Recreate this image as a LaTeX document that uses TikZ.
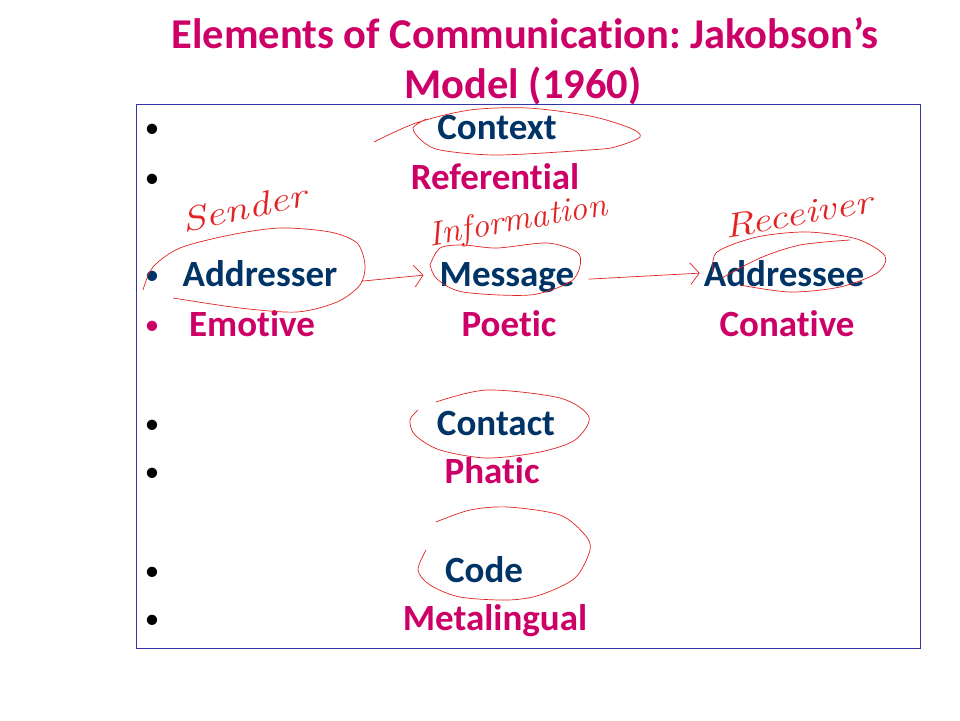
\documentclass[tikz,border=0pt]{standalone}
\usepackage{fontspec}
\setmainfont{Carlito}[Ligatures=NoCommon]
\newfontfamily\handfont{Latin Modern Roman}
\usetikzlibrary{arrows.meta}
\frenchspacing

\definecolor{titlepink}{RGB}{204,0,102}
\definecolor{darkblue}{RGB}{0,51,102}
\definecolor{framecol}{RGB}{51,51,170}
\definecolor{pen}{RGB}{225,35,35}

\tikzset{
  word/.style={font=\fontsize{37}{44}\selectfont\bfseries, inner sep=0pt, anchor=base},
  element/.style={word, text=darkblue},
  function/.style={word, text=titlepink},
  heading/.style={word, font=\fontsize{42.5}{50}\selectfont\bfseries, text=titlepink},
  dot/.style={word, font=\fontsize{29}{34}\selectfont},
  ink/.style={draw=pen, line width=0.7pt},
  scribble/.style={text=pen, font=\fontsize{34}{36}\selectfont\handfont\itshape, inner sep=0pt},
}

\begin{document}
\begin{tikzpicture}[x=1pt,y=-1pt]
\useasboundingbox (0,0) rectangle (960,720);
% Frame
\draw [framecol, line width=0.8pt] (136,104) rectangle (920,648);
% Title
\node [heading] (title) at (525,48) {Elements of Communication: Jakobson’s};
\node [heading] (subtitle) at (523,98) {Model (1960)};
% Bullets
\foreach \y/\c in {139/black,189/black,286/darkblue,336/titlepink,435/black,483/black,582/black,630/black}
  \node [dot, text=\c] (b\y) at (152,\y-2) {•};
% Elements and functions
\node [element] (context) at (497,139) {Context};
\node [function] (referential) at (495,189) {Referential};
\node [element] (addresser) at (260,286) {Addresser};
\node [element] (message) at (507,286) {Message};
\node [element] (addressee) at (784,286) {Addressee};
\node [function] (emotive) at (252,336) {Emotive};
\node [function] (poetic) at (509,336) {Poetic};
\node [function] (conative) at (787,336) {Conative};
\node [element] (contact) at (496,435) {Contact};
\node [function] (phatic) at (492,483) {Phatic};
\node [element] (code) at (484,582) {Code};
\node [function] (metalingual) at (495,630) {Metalingual};
%
% Notes in pen
\node [scribble, rotate=12, xscale=1.28] (sender) at (244,208) {Sender};
\node [scribble, rotate=10, xscale=1.04] (information) at (518,222) {Information};
\node [scribble, rotate=10, xscale=1.25] (receiver) at (798,214) {Receiver};
%
\draw [ink] plot [smooth] coordinates {(374,142) (416,123) (470,110) (528,108) (590,116) (630,128) (640,137) (615,147) (589,150) (497,155) (440,150) (421,140) (413,128) (426,119)};
\draw [ink] plot [smooth] coordinates {(143,290) (153,267) (180,248) (230,235) (280,228) (330,232) (357,243) (365,265) (360,285) (337,302) (297,312) (240,308) (173,298)};
\draw [ink] plot [smooth] coordinates {(430,265) (440,248) (463,245) (497,248) (547,243) (577,252) (580,266) (570,282) (530,295) (463,292) (437,279) (430,265)};
\draw [ink] plot [smooth] coordinates {(713,272) (717,252) (757,237) (807,232) (857,239) (885,256) (877,273) (840,287) (790,292) (740,285)};
\draw [ink] plot [smooth] coordinates {(722,278) (760,258) (800,245) (850,240)};
\draw [ink] plot [smooth] coordinates {(436,402) (487,390) (560,398) (589,417) (575,440) (540,452) (487,458) (440,450) (415,435) (410,420) (418,410)};
\draw [ink] plot [smooth] coordinates {(436,522) (470,510) (508,507) (560,515) (585,535) (590,550) (575,578) (540,595) (508,600) (460,597) (430,585) (418,570) (426,550)};
%
\draw [ink, -{Straight Barb[length=9pt,width=22pt]}] ([xshift=24pt,yshift=-8pt]addresser.east) -- ([xshift=-16pt,yshift=2pt]message.west);
\draw [ink, -{Straight Barb[length=9pt,width=22pt]}] ([xshift=14pt,yshift=-2pt]message.east) -- ([xshift=-4pt]addressee.west);
%
\end{tikzpicture}
\end{document}
